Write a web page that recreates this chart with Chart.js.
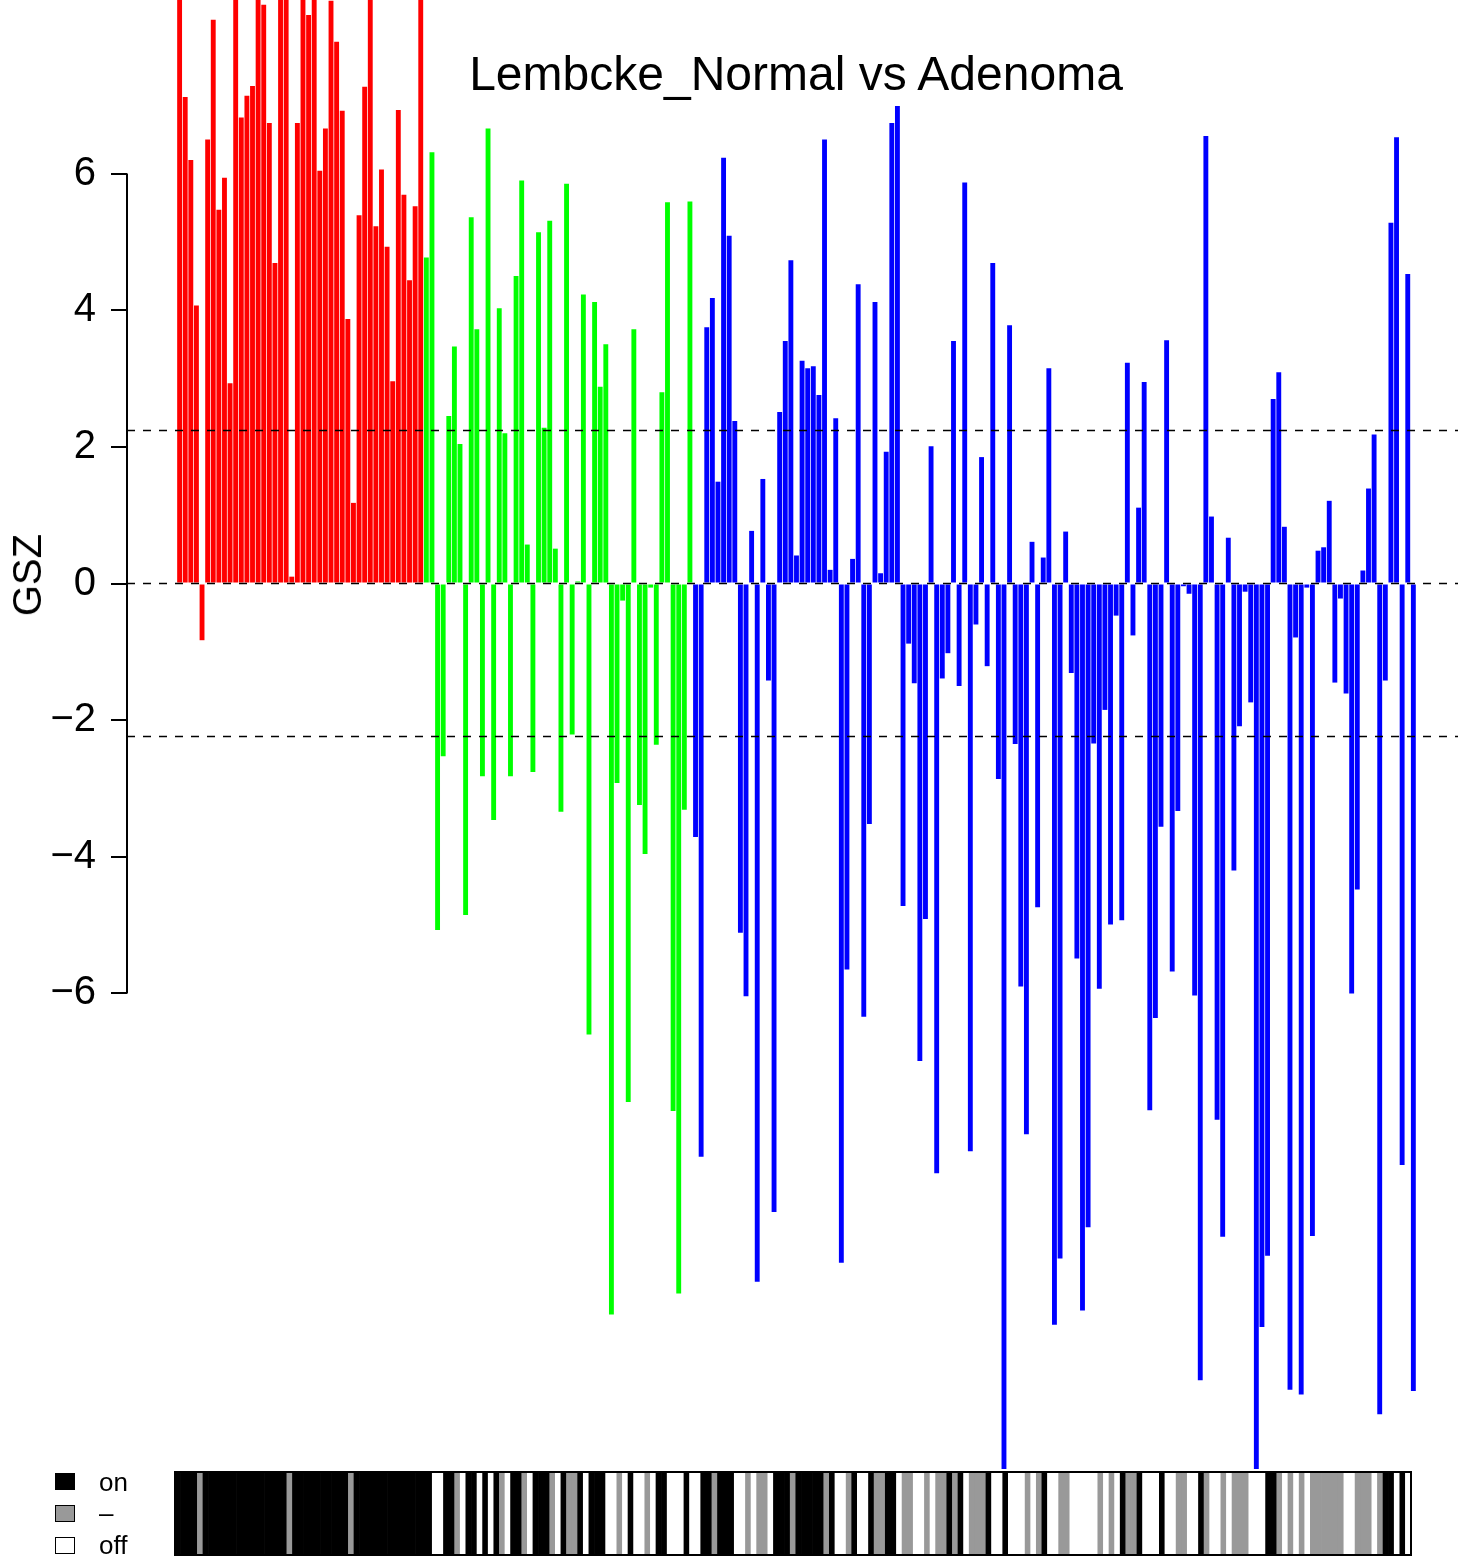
<!DOCTYPE html>
<html>
<head>
<meta charset="utf-8">
<title>Lembcke_Normal vs Adenoma</title>
<script src="https://cdn.jsdelivr.net/npm/chart.js@4.4.1/dist/chart.umd.min.js"></script>
<style>
  html, body { margin: 0; padding: 0; background: #fff; }
  body {
    position: relative;
    width: 1458px;
    height: 1556px;
    overflow: hidden;
    font-family: "Liberation Sans", Arial, sans-serif;
    color: #000;
  }
  #gszChart { position: absolute; left: 0; top: 0; }
  #stripChart { position: absolute; left: 0; top: 1469px; }
  .title {
    position: absolute; left: 796px; top: 50px;
    transform: translateX(-50%);
    font-size: 48px; line-height: 48px; white-space: nowrap;
  }
  .ylab {
    position: absolute; left: 27px; top: 575px;
    transform: translate(-50%, -50%) rotate(-90deg);
    font-size: 40px; line-height: 40px; white-space: nowrap;
  }
  .key { position: absolute; left: 55px; width: 20px; height: 17px; box-sizing: border-box; border: 1px solid #000; }
  .key-label { position: absolute; left: 99px; font-size: 26px; line-height: 26px; white-space: nowrap; }
</style>
</head>
<body>
<canvas id="gszChart" width="1458" height="1469"></canvas>
<canvas id="stripChart" width="1458" height="87"></canvas>

<div class="title">Lembcke_Normal vs Adenoma</div>
<div class="ylab">GSZ</div>

<div class="key" style="top:1473px; background:#000000;"></div>
<div class="key-label" style="top:1469px;">on</div>
<div class="key" style="top:1505px; background:#999999;"></div>
<div class="key-label" style="top:1500px;">–</div>
<div class="key" style="top:1537px; background:#ffffff;"></div>
<div class="key-label" style="top:1532px;">off</div>

<script>
"use strict";

/* ---------- data ---------- */

// GSZ per gene set, in plotted order (top-clipped bars set just past the frame)
const redValues = [
  9.0, 7.12, 6.20, 4.07, -0.83, 6.50, 8.25, 5.47, 5.94, 2.93,
  9.0, 6.82, 7.14, 7.28, 9.0, 8.47, 6.74, 4.69, 9.0, 9.0,
  0.10, 6.74, 9.0, 8.32, 9.0, 6.04, 6.66, 8.53, 7.93, 6.92,
  3.87, 1.18, 5.39, 7.27, 9.0, 5.23, 6.06, 4.93, 2.96, 6.93,
  5.69, 4.44, 5.52, 9.0
];

const greenValues = [
  4.77, 6.31, -5.07, -2.53, 2.45, 3.47, 2.04, -4.85, 5.36, 3.72,
  -2.82, 6.66, -3.46, 4.03, 2.20, -2.82, 4.50, 5.90, 0.57, -2.76,
  5.14, 2.28, 5.31, 0.51, -3.34, 5.85, -2.21, 0.03, 4.23, -6.60,
  4.12, 2.88, 3.50, -10.70, -2.92, -0.25, -7.59, 3.72, -3.24, -3.96,
  -0.06, -2.36, 2.80, 5.58, -7.72, -10.39, -3.31, 5.59
];

const blueValues = [
  -3.71, -8.39, 3.75, 4.18, 1.49, 6.23, 5.09, 2.38, -5.11, -6.04,
  0.77, -10.22, 1.53, -1.42, -9.20, 2.51, 3.55, 4.73, 0.41, 3.26,
  3.15, 3.18, 2.76, 6.50, 0.20, 2.42, -9.94, -5.65, 0.36, 4.38,
  -6.34, -3.52, 4.12, 0.15, 1.93, 6.74, 6.99, -4.72, -0.88, -1.46,
  -6.99, -4.91, 2.01, -8.63, -1.39, -1.02, 3.55, -1.50, 5.87, -8.31,
  -0.60, 1.85, -1.21, 4.69, -2.86, -13.3, 3.78, -2.35, -5.90, -8.06,
  0.61, -4.74, 0.38, 3.15, -10.85, -9.88, 0.76, -1.31, -5.49, -10.64,
  -9.42, -2.34, -5.93, -1.85, -4.99, -0.47, -4.93, 3.23, -0.76, 1.11,
  2.95, -7.71, -6.36, -3.56, 3.56, -5.68, -3.33, -0.04, -0.15, -6.03,
  -11.66, 6.55, 0.98, -7.85, -9.56, 0.67, -4.20, -2.09, -0.12, -1.74,
  -13.3, -10.88, -9.84, 2.70, 3.09, 0.83, -11.80, -0.79, -11.87, -0.06,
  -9.55, 0.48, 0.53, 1.21, -1.45, -0.22, -1.61, -6.00, -4.48, 0.19,
  1.39, 2.18, -12.16, -1.42, 5.28, 6.53, -8.51, 4.53, -11.82
];

const groupColors = ["#FF0000", "#00FF00", "#0000FF"];

// strip under the plot, one cell per bar: B = on, G = "–", W = off
const redStates = ["BBBBGBBBBB", "BBBBBBBBBB", "GBBBBBBBBB", "BGBBBBBBBB", "BBBB"];
const greenStates = ["BBWWBBGWBB", "WBWBGWBBGW", "BBBGWBGGBW", "BBBWWGWBWW", "GWBBWWWB"];
const blueStates = [
  "WWBBGBBBWW", "GWGGWBBBGB", "BBBBGBWWGB", "WWBGGBBWGG", "WWGWGGBGBW",
  "GGGBWWBWWW", "GWGBWWGGWW", "WWWGWGWBGG", "BWWWBWWGGW", "WBGWWGWGGG",
  "WWWBBGWGWG", "WGGGGGGWWG", "GGWGBBWBW"
];
const stateColors = { B: "#000000", G: "#999999", W: "#FFFFFF" };

const yTicks = [-6, -4, -2, 0, 2, 4, 6];
const cutoffs = [0, 2.24, -2.24];

/* ---------- build series ---------- */

const groups = [redValues, greenValues, blueValues];
const gsz = [].concat(...groups);
const barColors = [];
groups.forEach((g, gi) => g.forEach(() => barColors.push(groupColors[gi])));
const states = (redStates.join("") + greenStates.join("") + blueStates.join("")).split("");
if (states.length !== gsz.length) console.warn("state/value length mismatch", states.length, gsz.length);

const FONT = "'Liberation Sans', Arial, Helvetica, sans-serif";

/* ---------- plugins ---------- */

// left axis spine only between first and last tick, like R's axis()
const axisSpine = {
  id: "axisSpine",
  afterDraw(chart) {
    const y = chart.scales.y;
    const ctx = chart.ctx;
    ctx.save();
    ctx.strokeStyle = "#000";
    ctx.lineWidth = 2;
    ctx.beginPath();
    ctx.moveTo(y.right, y.getPixelForValue(yTicks[0]));
    ctx.lineTo(y.right, y.getPixelForValue(yTicks[yTicks.length - 1]));
    ctx.stroke();
    ctx.restore();
  }
};

// dashed reference lines drawn over the bars
const cutoffLines = {
  id: "cutoffLines",
  afterDatasetsDraw(chart) {
    const y = chart.scales.y;
    const area = chart.chartArea;
    const ctx = chart.ctx;
    ctx.save();
    ctx.strokeStyle = "#000";
    ctx.lineWidth = 1.6;
    ctx.setLineDash([8, 8]);
    cutoffs.forEach(v => {
      const py = y.getPixelForValue(v);
      ctx.beginPath();
      ctx.moveTo(area.left, py);
      ctx.lineTo(area.right, py);
      ctx.stroke();
    });
    ctx.restore();
  }
};

const stripFrame = {
  id: "stripFrame",
  afterDraw(chart) {
    const a = chart.chartArea;
    const ctx = chart.ctx;
    ctx.save();
    ctx.strokeStyle = "#000";
    ctx.lineWidth = 2;
    ctx.strokeRect(a.left, a.top, a.right - a.left, a.bottom - a.top);
    ctx.restore();
  }
};

/* ---------- main bar chart ---------- */

new Chart(document.getElementById("gszChart"), {
  type: "bar",
  data: {
    datasets: [{
      data: gsz.map((v, i) => ({ x: i, y: v })),
      backgroundColor: barColors,
      borderWidth: 0,
      barPercentage: 0.87,
      categoryPercentage: 1
    }]
  },
  options: {
    responsive: false,
    animation: false,
    layout: { padding: 0 },
    plugins: {
      legend: { display: false },
      tooltip: { enabled: false },
      title: { display: false }
    },
    scales: {
      x: {
        type: "linear",
        display: false,
        offset: false, // bar default would pad the linear range by half a tick step
        min: -9.38,
        max: 227.96
      },
      y: {
        position: "left",
        min: -12.96,
        max: 8.54,
        afterBuildTicks: scale => {
          scale.ticks = yTicks.map(v => ({ value: v }));
        },
        afterFit: scale => {
          scale.width = 127;
          scale.paddingTop = 0;
          scale.paddingBottom = 0;
        },
        border: { display: false },
        grid: {
          drawOnChartArea: false,
          drawTicks: true,
          tickLength: 16,
          color: "#000",
          lineWidth: 2
        },
        ticks: {
          color: "#000",
          padding: 15,
          autoSkip: false,
          font: { family: FONT, size: 40 },
          callback: v => (v < 0 ? "\u2212" + Math.abs(v) : String(v))
        }
      }
    }
  },
  plugins: [cutoffLines, axisSpine]
});

/* ---------- on / – / off strip ---------- */

new Chart(document.getElementById("stripChart"), {
  type: "bar",
  data: {
    labels: gsz.map((_, i) => String(i + 1)),
    datasets: [{
      data: states.map(() => 1),
      backgroundColor: states.map(s => stateColors[s]),
      borderWidth: 0,
      barPercentage: 1,
      categoryPercentage: 1
    }]
  },
  options: {
    responsive: false,
    animation: false,
    layout: { padding: { left: 175, right: 47, top: 3, bottom: 1 } },
    plugins: {
      legend: { display: false },
      tooltip: { enabled: false }
    },
    scales: {
      x: { display: false },
      y: { display: false, min: 0, max: 1 }
    }
  },
  plugins: [stripFrame]
});
</script>
</body>
</html>
